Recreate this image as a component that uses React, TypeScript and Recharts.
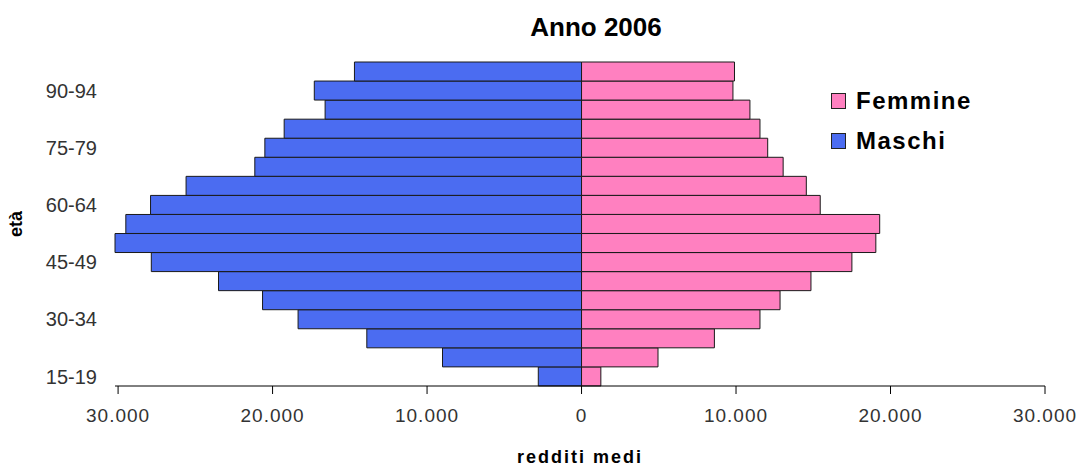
import React from "react";
import { BarChart, Bar, XAxis, YAxis, Legend } from "recharts";

const ETA = [
  "15-19", "20-24", "25-29", "30-34", "35-39", "40-44", "45-49", "50-54", "55-59",
  "60-64", "65-69", "70-74", "75-79", "80-84", "85-89", "90-94", "95+",
];
// redditi medi (euro), maschi drawn to the left
const MASCHI = [
  2800, 9000, 13900, 18350, 20650, 23500, 27850, 30200, 29500,
  27900, 25600, 21150, 20500, 19250, 16600, 17300, 14700,
];
const FEMMINE = [
  1250, 4950, 8600, 11550, 12850, 14850, 17500, 19050, 19300,
  15450, 14550, 13050, 12050, 11550, 10900, 9800, 9900,
];
const X_TICKS = [-30000, -20000, -10000, 0, 10000, 20000, 30000];

const FONT = "'Liberation Sans', Arial, sans-serif";
const BLUE = "#4b6cf1";
const PINK = "#ff80c0";

const data = ETA.map((eta, i) => ({
  eta,
  maschi: -MASCHI[i],
  femmine: FEMMINE[i],
}));

const fmt = (v: number) =>
  Math.abs(v).toString().replace(/\B(?=(\d{3})+(?!\d))/g, ".");

function LegendBox({ payload }: any) {
  const order = ["Femmine", "Maschi"];
  const items = [...(payload || [])].sort(
    (a: any, b: any) => order.indexOf(a.value) - order.indexOf(b.value)
  );
  return (
    <div style={{ fontFamily: FONT }}>
      {items.map((p: any) => (
        <div
          key={p.value}
          style={{ display: "flex", alignItems: "center", height: 40 }}
        >
          <span
            style={{
              width: 13,
              height: 14,
              background: p.color,
              border: "1px solid #222",
              marginRight: 10,
            }}
          />
          <span
            style={{
              fontSize: 24,
              fontWeight: "bold",
              letterSpacing: 1.5,
              color: "#000",
            }}
          >
            {p.value}
          </span>
        </div>
      ))}
    </div>
  );
}

export default function App() {
  return (
    <div
      style={{
        position: "absolute",
        left: 0,
        top: 0,
        width: 1081,
        height: 466,
        background: "#fff",
        fontFamily: FONT,
      }}
    >
      <div
        style={{
          position: "absolute",
          left: 496,
          top: 14,
          width: 200,
          textAlign: "center",
          fontSize: 26,
          lineHeight: "26px",
          fontWeight: "bold",
          color: "#000",
        }}
      >
        Anno 2006
      </div>
      <BarChart
        width={1081}
        height={466}
        data={data}
        layout="vertical"
        stackOffset="sign"
        barCategoryGap={0}
        margin={{ top: 62, right: 36, bottom: 0, left: 0 }}
      >
        <XAxis
          type="number"
          domain={[-30000, 30000]}
          ticks={X_TICKS}
          tickFormatter={fmt}
          height={80}
          axisLine={{ stroke: "#000" }}
          tickLine={{ stroke: "#000" }}
          tickSize={8}
          tickMargin={15}
          tick={{ fill: "#333", fontSize: 19, fontFamily: FONT, letterSpacing: 1 }}
          label={{
            value: "redditi medi",
            position: "insideBottom",
            offset: 3,
            style: {
              fontSize: 18,
              fontWeight: "bold",
              letterSpacing: 2,
              fill: "#000",
              fontFamily: FONT,
            },
          }}
        />
        <YAxis
          type="category"
          dataKey="eta"
          reversed
          width={115}
          interval={2}
          axisLine={false}
          tickLine={false}
          tickSize={0}
          tickMargin={18}
          tick={{ fill: "#333", fontSize: 20, fontFamily: FONT }}
          label={{
            content: () => (
              <text
                x={22}
                y={224}
                transform="rotate(-90 22 224)"
                textAnchor="middle"
                fontSize={18}
                fontWeight="bold"
                fontFamily={FONT}
                fill="#000"
              >
                età
              </text>
            ),
          }}
        />
        <Legend
          layout="vertical"
          align="center"
          verticalAlign="middle"
          wrapperStyle={{ position: "absolute", left: 831, top: 81, width: 200 }}
          content={LegendBox}
        />
        <Bar
          dataKey="maschi"
          name="Maschi"
          stackId="a"
          fill={BLUE}
          stroke="#1a1a1a"
          strokeWidth={1}
          isAnimationActive={false}
        />
        <Bar
          dataKey="femmine"
          name="Femmine"
          stackId="a"
          fill={PINK}
          stroke="#1a1a1a"
          strokeWidth={1}
          isAnimationActive={false}
        />
      </BarChart>
    </div>
  );
}
